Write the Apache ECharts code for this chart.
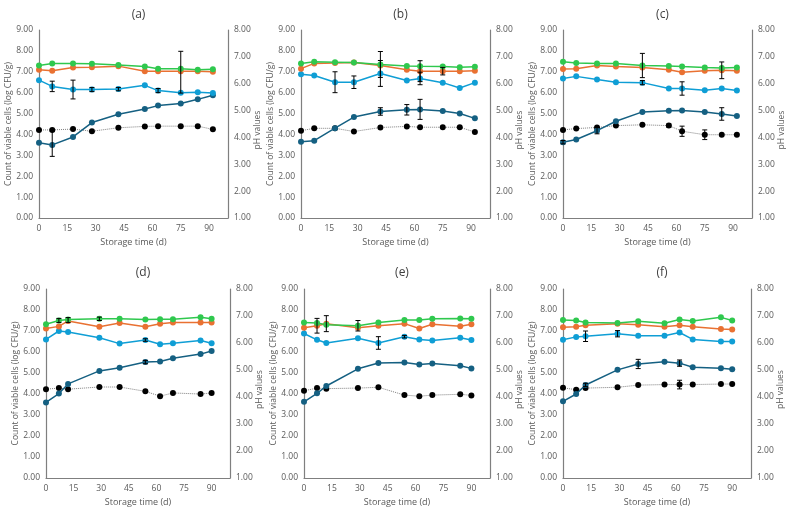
<!DOCTYPE html>
<html>
<head>
<meta charset="utf-8">
<script src="https://cdn.jsdelivr.net/npm/echarts@6/dist/echarts.min.js"></script>
<style>
html,body{margin:0;padding:0;background:#fff;}
#chart{width:787px;height:512px;}
</style>
</head>
<body>
<div id="chart"></div>
<script>
// ---- Data ----
const panelTitles = ['(a)','(b)','(c)','(d)','(e)','(f)'];
const leftAxisTitle = 'Count of viable cells (log CFU/g)';
const rightAxisTitle = 'pH values';
const xAxisTitle = 'Storage time (d)';
const daysTop = [0,7,18,28,42,56,63,75,84,92];
const daysBottom = [0,7,12,29,40,54,62,69,84,90];
const xTicks = [0,15,30,45,60,75,90];

const aGreen  = [7.30,7.40,7.40,7.38,7.33,7.25,7.15,7.15,7.10,7.12];
const aOrange = [7.10,7.05,7.20,7.22,7.27,7.02,7.02,7.02,7.02,7.00];
const aBlue   = [6.60,6.30,6.15,6.15,6.17,6.35,6.10,6.00,6.02,5.98];
const aTeal   = [3.60,3.50,3.88,4.57,4.97,5.22,5.38,5.48,5.68,5.88];
const aPH     = [4.28,4.28,4.31,4.23,4.36,4.41,4.42,4.42,4.42,4.30];
const aErr    = [[7,6.30,0.25],[18,6.15,0.45],[28,6.15,0.10],[42,6.17,0.08],[63,6.10,0.10],[75,6.98,1.00],[7,3.55,0.60]];
const aPHErr  = [];

const bGreen  = [7.40,7.48,7.46,7.44,7.35,7.28,7.26,7.25,7.22,7.24];
const bOrange = [7.15,7.40,7.42,7.44,7.30,7.10,7.03,7.03,7.03,7.05];
const bBlue   = [6.88,6.82,6.50,6.50,6.92,6.58,6.68,6.48,6.22,6.48];
const bTeal   = [3.65,3.70,4.30,4.83,5.10,5.18,5.20,5.12,5.00,4.77];
const bPH     = [4.25,4.34,4.34,4.22,4.37,4.41,4.38,4.38,4.38,4.20];
const bErr    = [[18,6.50,0.50],[28,6.50,0.30],[42,6.92,0.62],[42,7.35,0.62],[63,6.68,0.30],[63,7.03,0.50],[75,7.03,0.18],[42,5.10,0.18],[56,5.18,0.25],[63,5.20,0.48]];
const bPHErr  = [];

const cGreen  = [7.48,7.42,7.40,7.40,7.30,7.28,7.25,7.20,7.18,7.20];
const cOrange = [7.13,7.15,7.30,7.25,7.20,7.10,6.98,7.05,7.07,7.05];
const cBlue   = [6.68,6.78,6.63,6.50,6.48,6.20,6.20,6.12,6.20,6.10];
const cTeal   = [3.63,3.76,4.18,4.63,5.08,5.14,5.15,5.08,4.98,4.88];
const cPH     = [4.28,4.33,4.37,4.44,4.47,4.44,4.23,4.10,4.10,4.10];
const cErr    = [[42,7.30,0.58],[42,6.48,0.10],[63,6.20,0.32],[84,7.07,0.40],[84,4.98,0.30],[18,4.18,0.15],[0,3.63,0.08]];
const cPHErr  = [[56,4.44,0.06],[63,4.23,0.19],[75,4.10,0.18]];

const dGreen  = [7.32,7.50,7.55,7.58,7.58,7.55,7.56,7.56,7.65,7.58];
const dOrange = [7.12,7.22,7.48,7.20,7.38,7.20,7.35,7.40,7.40,7.40];
const dBlue   = [6.60,7.00,6.95,6.68,6.40,6.57,6.37,6.42,6.55,6.42];
const dTeal   = [3.60,4.02,4.48,5.10,5.25,5.52,5.55,5.70,5.90,6.05];
const dPH     = [4.29,4.33,4.29,4.37,4.37,4.21,4.03,4.15,4.11,4.15];
const dErr    = [[7,7.50,0.10],[12,7.52,0.12],[29,7.58,0.08],[54,5.52,0.08],[54,6.57,0.06]];
const dPHErr  = [];

const eGreen  = [7.40,7.38,7.30,7.25,7.40,7.52,7.52,7.58,7.60,7.58];
const eOrange = [7.15,7.25,7.35,7.15,7.25,7.35,7.12,7.32,7.23,7.32];
const eBlue   = [6.88,6.58,6.43,6.65,6.43,6.73,6.60,6.55,6.68,6.57];
const eTeal   = [3.63,4.03,4.38,5.20,5.48,5.50,5.40,5.45,5.35,5.22];
const ePH     = [4.23,4.33,4.31,4.33,4.36,4.07,4.03,4.07,4.10,4.06];
const eErr    = [[7,7.25,0.35],[12,7.35,0.38],[29,7.25,0.25],[40,6.43,0.30],[54,6.73,0.06]];
const ePHErr  = [];

const fGreen  = [7.52,7.50,7.40,7.38,7.47,7.37,7.55,7.48,7.65,7.50];
const fOrange = [7.18,7.20,7.27,7.35,7.30,7.20,7.27,7.20,7.10,7.07];
const fBlue   = [6.58,6.72,6.75,6.87,6.77,6.77,6.93,6.60,6.50,6.50];
const fTeal   = [3.65,4.00,4.43,5.15,5.43,5.53,5.47,5.27,5.23,5.18];
const fPH     = [4.34,4.27,4.33,4.36,4.44,4.46,4.46,4.46,4.48,4.48];
const fErr    = [[12,6.75,0.25],[29,6.87,0.15],[40,5.43,0.22],[62,5.47,0.15],[12,4.43,0.08]];
const fPHErr  = [[62,4.46,0.16]];

// ---- Build ----
const panels = [
  {days: daysTop, green:aGreen, orange:aOrange, blue:aBlue, teal:aTeal, ph:aPH, err:aErr, phErr:aPHErr},
  {days: daysTop, green:bGreen, orange:bOrange, blue:bBlue, teal:bTeal, ph:bPH, err:bErr, phErr:bPHErr},
  {days: daysTop, green:cGreen, orange:cOrange, blue:cBlue, teal:cTeal, ph:cPH, err:cErr, phErr:cPHErr},
  {days: daysBottom, green:dGreen, orange:dOrange, blue:dBlue, teal:dTeal, ph:dPH, err:dErr, phErr:dPHErr},
  {days: daysBottom, green:eGreen, orange:eOrange, blue:eBlue, teal:eTeal, ph:ePH, err:eErr, phErr:ePHErr},
  {days: daysBottom, green:fGreen, orange:fOrange, blue:fBlue, teal:fTeal, ph:fPH, err:fErr, phErr:fPHErr}
];
const gridPos = [
  {left:39, top:30, width:189, height:188},
  {left:301, top:30, width:189, height:188},
  {left:563, top:30, width:189, height:188},
  {left:46, top:289, width:184, height:189},
  {left:304, top:289, width:186, height:189},
  {left:563, top:289, width:188, height:189}
];
const COLORS = {green:'#2fc84e', orange:'#e97132', blue:'#0f9ed5', teal:'#156082', ph:'#000000'};
const FONT = 'Open Sans';
const labelColor = '#595959';
const axisCol = '#7f7f7f';

const option = {animation:false, backgroundColor:'#fff', title:[], grid:[], xAxis:[], yAxis:[], series:[], graphic:[]};

function errRender(params, api) {
  const x = api.value(0), c = api.value(1), e = api.value(2);
  const p1 = api.coord([x, c + e]);
  const p2 = api.coord([x, c - e]);
  const style = {stroke:'#000', lineWidth:1};
  return {type:'group', children:[
    {type:'line', shape:{x1:p1[0], y1:p1[1], x2:p2[0], y2:p2[1]}, style:style},
    {type:'line', shape:{x1:p1[0]-2.5, y1:p1[1], x2:p1[0]+2.5, y2:p1[1]}, style:style},
    {type:'line', shape:{x1:p2[0]-2.5, y1:p2[1], x2:p2[0]+2.5, y2:p2[1]}, style:style}
  ]};
}

panels.forEach((p, i) => {
  const g = gridPos[i];
  option.grid.push({left:g.left, top:g.top, width:g.width, height:g.height, containLabel:false});
  option.title.push({
    text: panelTitles[i], left: g.left + g.width/2, textAlign:'center',
    top: (i < 3 ? 4 : 262),
    textStyle:{fontFamily:FONT, fontSize:12, fontWeight:'normal', color:'#404040'}
  });
  option.graphic.push({
    type:'text', x: g.left - 30, y: g.top + g.height/2, rotation: Math.PI/2, z:10,
    style:{text:leftAxisTitle, fontFamily:FONT, fontSize:8.5, fill:labelColor, align:'center', verticalAlign:'middle'}
  });
  option.graphic.push({
    type:'text', x: g.left + g.width + 30, y: g.top + g.height/2 + 6, rotation: Math.PI/2, z:10,
    style:{text:rightAxisTitle, fontFamily:FONT, fontSize:8.5, fill:labelColor, align:'center', verticalAlign:'middle'}
  });
  option.xAxis.push({
    type:'value', gridIndex:i, min:0, max:100, interval:15,
    name:xAxisTitle, nameLocation:'middle', nameGap:20,
    nameTextStyle:{fontFamily:FONT, fontSize:9, color:labelColor},
    axisLine:{show:true, onZero:false, lineStyle:{color:axisCol, width:1.2}},
    axisTick:{show:false}, splitLine:{show:false},
    axisLabel:{fontFamily:FONT, fontSize:8.5, color:labelColor, margin:6,
      formatter: v => xTicks.indexOf(v) >= 0 ? String(v) : ''}
  });
  option.yAxis.push({
    type:'value', gridIndex:i, min:0, max:9, interval:1, position:'left',
    axisLine:{show:true, lineStyle:{color:axisCol, width:1.2}},
    axisTick:{show:false}, splitLine:{show:false},
    axisLabel:{fontFamily:FONT, fontSize:8.5, color:labelColor, margin:6, formatter: v => v.toFixed(2)}
  });
  option.yAxis.push({
    type:'value', gridIndex:i, min:1, max:8, interval:1, position:'right',
    axisLine:{show:true, lineStyle:{color:axisCol, width:1.2}},
    axisTick:{show:false}, splitLine:{show:false},
    axisLabel:{fontFamily:FONT, fontSize:8.5, color:labelColor, margin:6, formatter: v => v.toFixed(2)}
  });
  const yL = i*2, yR = i*2+1;
  const pair = arr => p.days.map((d, k) => [d, arr[k]]);
  option.series.push({
    type:'line', xAxisIndex:i, yAxisIndex:yR, data:pair(p.ph), symbol:'circle', symbolSize:6,
    lineStyle:{color:'#808080', width:1, type:'dotted'}, itemStyle:{color:COLORS.ph}, z:2
  });
  ['teal','blue','orange','green'].forEach(key => {
    option.series.push({
      type:'line', xAxisIndex:i, yAxisIndex:yL, data:pair(p[key]), symbol:'circle', symbolSize:6,
      lineStyle:{color:COLORS[key], width:1.5}, itemStyle:{color:COLORS[key]}, z:3
    });
  });
  option.series.push({type:'custom', xAxisIndex:i, yAxisIndex:yL, data:p.err, renderItem:errRender, z:5});
  if (p.phErr.length) {
    option.series.push({type:'custom', xAxisIndex:i, yAxisIndex:yR, data:p.phErr, renderItem:errRender, z:5});
  }
});

const chart = echarts.init(document.getElementById('chart'), null, {renderer:'canvas'});
chart.setOption(option);
</script>
</body>
</html>
